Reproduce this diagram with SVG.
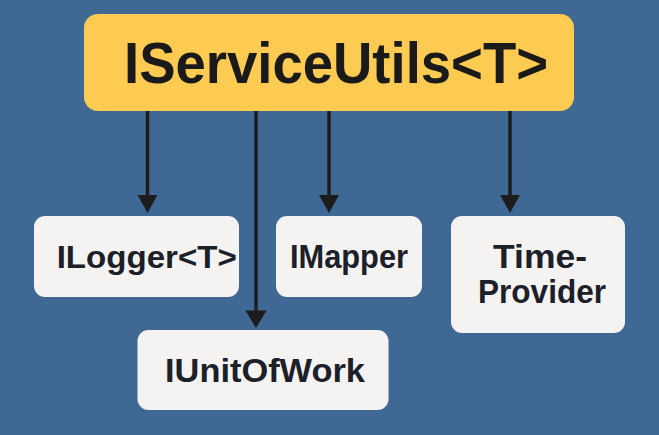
<svg xmlns="http://www.w3.org/2000/svg" width="659" height="435" viewBox="0 0 659 435">
<defs>
<style>
.box{fill:#F4F3F1;}
.lbl{font-family:"Liberation Sans","Arial",sans-serif;font-weight:bold;fill:#1B2029;text-anchor:middle;}
.conn{stroke:#1C1C1C;stroke-width:3.5;fill:none;}
.head{fill:#1C1C1C;}
</style>
</defs>
<rect width="659" height="435" fill="#3F6894"/>
<g id="connectors">
<line class="conn" x1="147.5" y1="110" x2="147.5" y2="198"/>
<polygon class="head" points="137.5,195 157.5,195 147.5,213"/>
<line class="conn" x1="256" y1="110" x2="256" y2="313"/>
<polygon class="head" points="245.5,310.5 266.5,310.5 256,328"/>
<line class="conn" x1="329" y1="110" x2="329" y2="198"/>
<polygon class="head" points="319,195 339,195 329,213"/>
<line class="conn" x1="510" y1="110" x2="510" y2="198"/>
<polygon class="head" points="500,195 520,195 510,213"/>
</g>
<g id="node-iserviceutils">
<rect x="84" y="14" width="490" height="97" rx="14" fill="#FDCB52"/>
<text class="lbl" x="336" y="83" font-size="57" textLength="424" lengthAdjust="spacingAndGlyphs" style="fill:#1A1A1A">IServiceUtils&lt;T&gt;</text>
</g>
<g id="node-ilogger">
<rect class="box" x="34" y="216" width="205" height="81" rx="11"/>
<text class="lbl" x="146.7" y="268" font-size="32" textLength="180" lengthAdjust="spacingAndGlyphs">ILogger&lt;T&gt;</text>
</g>
<g id="node-imapper">
<rect class="box" x="276" y="216" width="146" height="81" rx="11"/>
<text class="lbl" x="349" y="268.3" font-size="32.5" textLength="118" lengthAdjust="spacingAndGlyphs">IMapper</text>
</g>
<g id="node-timeprovider">
<rect class="box" x="451" y="216" width="174" height="117" rx="11"/>
<text class="lbl" x="540" y="268" font-size="32.5" textLength="94" lengthAdjust="spacingAndGlyphs">Time-</text>
<text class="lbl" x="542" y="303" font-size="34" textLength="128" lengthAdjust="spacingAndGlyphs">Provider</text>
</g>
<g id="node-iunitofwork">
<rect class="box" x="137.5" y="330" width="251" height="80" rx="11"/>
<text class="lbl" x="265" y="381.7" font-size="33.5" textLength="200" lengthAdjust="spacingAndGlyphs">IUnitOfWork</text>
</g>
</svg>
